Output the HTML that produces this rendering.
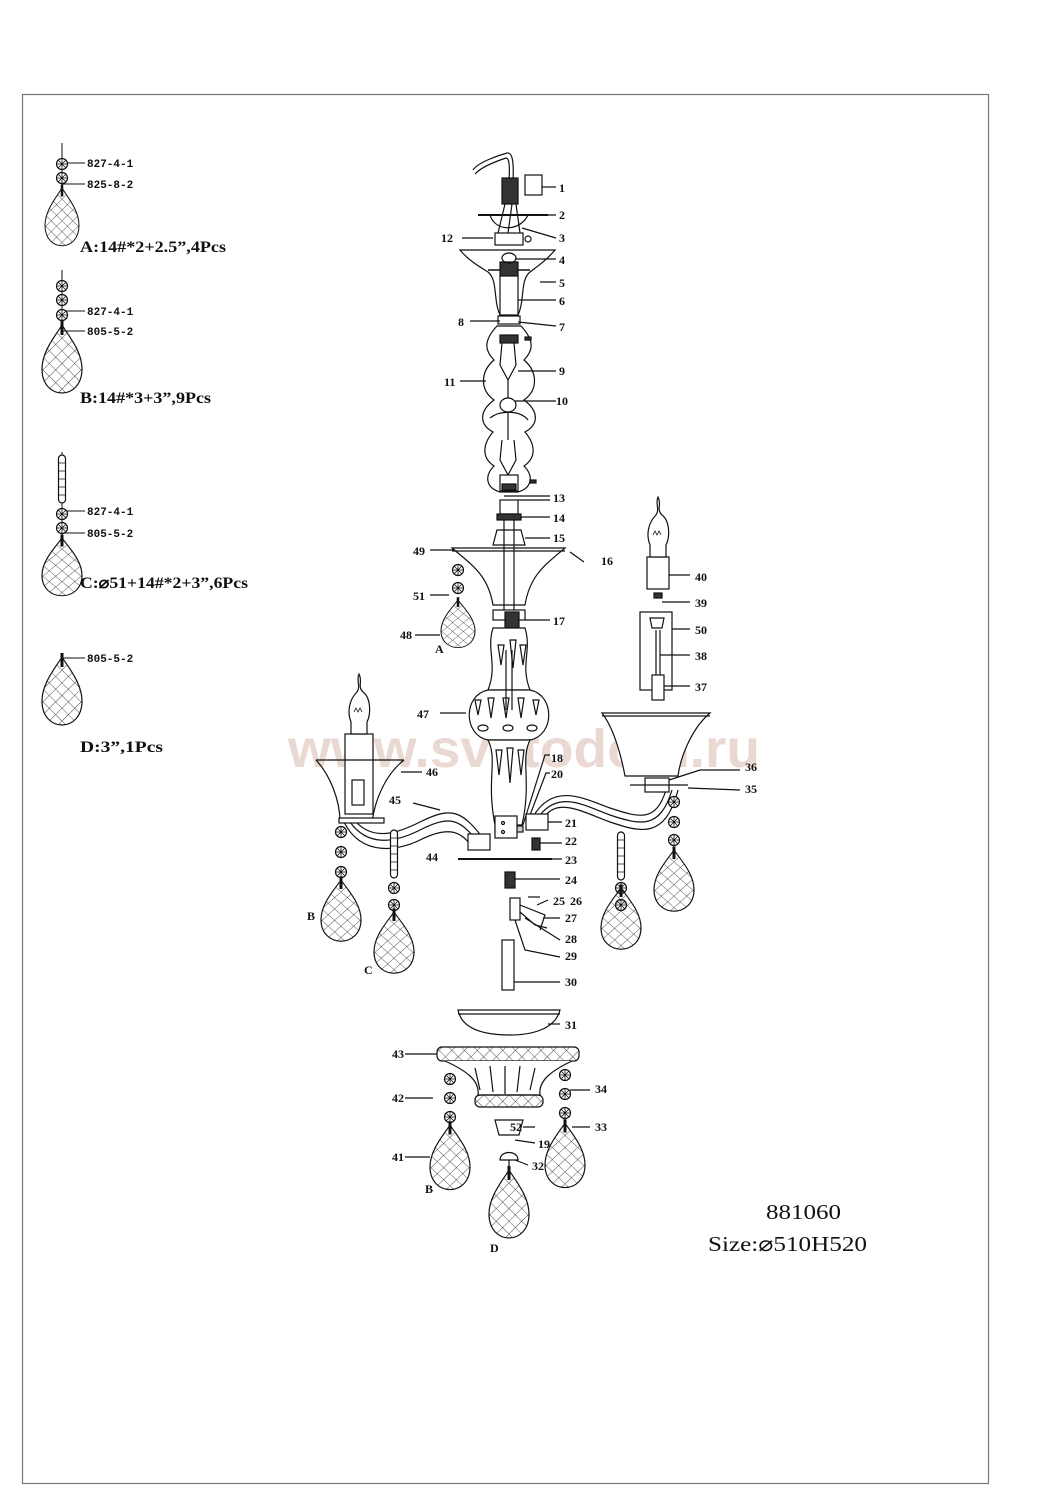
<!DOCTYPE html>
<html><head><meta charset="utf-8"><style>
html,body{margin:0;padding:0;background:#fff;}
svg{display:block}
text{font-family:"Liberation Serif",serif;font-weight:bold;fill:#111;}
.l{font-size:12px}
.s{font-size:11px;font-family:"Liberation Mono",monospace}
</style></head><body>
<svg width="1059" height="1500" viewBox="0 0 1059 1500" xmlns="http://www.w3.org/2000/svg">
<defs>
<pattern id="hatch" width="9" height="9" patternUnits="userSpaceOnUse" patternTransform="rotate(45)">
<path d="M0,0 V9 M0,0 H9" stroke="#222" stroke-width="0.8" fill="none"/>
</pattern>
<g id="drop">
<path d="M0,0 C-6,10 -20,26 -20,44 C-20,60 -10,68 0,68 C10,68 20,60 20,44 C20,26 6,10 0,0Z" fill="url(#hatch)" stroke="#111" stroke-width="1.2"/>
<line x1="0" y1="-4" x2="0" y2="10" stroke="#111" stroke-width="3"/>
</g>
<g id="bead">
<circle r="5.5" fill="#fff" stroke="#111" stroke-width="1.2"/>
<path d="M-5,0H5M0,-5V5M-3.5,-3.5L3.5,3.5M-3.5,3.5L3.5,-3.5" stroke="#111" stroke-width="0.8"/>
</g>
<g id="lbead">
<rect x="-3.5" y="0" width="7" height="48" rx="3.5" fill="#fff" stroke="#111" stroke-width="1.2"/>
<path d="M-3,8H3M-3,16H3M-3,24H3M-3,32H3M-3,40H3" stroke="#111" stroke-width="0.8"/>
</g>
<g id="candle">
<path d="M0,-60 C4,-52 -2,-48 4,-42 C12,-36 12,-20 8,-12 L8,0 L-8,0 L-8,-12 C-12,-22 -10,-34 -2,-42 C2,-48 -3,-54 0,-60Z" fill="#fff" stroke="#111" stroke-width="1.2"/>
<path d="M-5,-22 l2,-4 l2,4 l2,-4 l2,4" fill="none" stroke="#111" stroke-width="0.8"/>
</g>
</defs>
<rect x="22.5" y="94.5" width="966" height="1389" fill="none" stroke="#777" stroke-width="1.2"/>

<!-- watermark -->
<text x="288" y="767" textLength="472" lengthAdjust="spacingAndGlyphs" style="font-family:'Liberation Sans',sans-serif;font-size:54px;font-weight:bold;fill:#ead9d2">www.svetodom.ru</text>

<!-- LEGEND -->
<g stroke="#111" stroke-width="1">
<line x1="62" y1="143" x2="62" y2="185"/>
<line x1="62" y1="163" x2="85" y2="163"/><line x1="62" y1="184" x2="85" y2="184"/>
<line x1="62" y1="270" x2="62" y2="320"/>
<line x1="62" y1="311" x2="85" y2="311"/><line x1="62" y1="331" x2="85" y2="331"/>
<line x1="62" y1="452" x2="62" y2="540"/>
<line x1="62" y1="511" x2="85" y2="511"/><line x1="62" y1="533" x2="85" y2="533"/>
<line x1="62" y1="658" x2="85" y2="658"/>
</g>
<use href="#bead" x="62" y="164"/><use href="#bead" x="62" y="178"/><use href="#drop" transform="translate(62,188) scale(0.85)"/>
<text class="s" x="87" y="167">827-4-1</text><text class="s" x="87" y="188">825-8-2</text>
<text x="80" y="252" textLength="146" lengthAdjust="spacingAndGlyphs" style="font-size:16px">A:14#*2+2.5”,4Pcs</text>

<use href="#bead" x="62" y="286"/><use href="#bead" x="62" y="300"/><use href="#bead" x="62" y="315"/>
<use href="#drop" transform="translate(62,325) scale(1.0)"/>
<text class="s" x="87" y="315">827-4-1</text><text class="s" x="87" y="335">805-5-2</text>
<text x="80" y="403" textLength="131" lengthAdjust="spacingAndGlyphs" style="font-size:16px">B:14#*3+3”,9Pcs</text>

<use href="#lbead" x="62" y="455"/><use href="#bead" x="62" y="514"/><use href="#bead" x="62" y="528"/>
<use href="#drop" transform="translate(62,538) scale(1.0,0.85)"/>
<text class="s" x="87" y="515">827-4-1</text><text class="s" x="87" y="537">805-5-2</text>
<text x="80" y="588" textLength="168" lengthAdjust="spacingAndGlyphs" style="font-size:16px">C:⌀51+14#*2+3”,6Pcs</text>

<use href="#drop" transform="translate(62,657) scale(1.0)"/>
<text class="s" x="87" y="662">805-5-2</text>
<text x="80" y="752" textLength="83" lengthAdjust="spacingAndGlyphs" style="font-size:16px">D:3”,1Pcs</text>

<!-- CENTER DRAWING -->
<g fill="none" stroke="#111" stroke-width="1.2">
<path d="M473,170 C478,162 500,155 507,153 C512,152 514,160 513,180"/>
<path d="M475,174 C482,166 500,160 506,158 C509,158 510,165 509,180"/>
<rect x="502" y="178" width="16" height="26" fill="#333"/>
<rect x="525" y="175" width="17" height="20" fill="#fff"/>
<line x1="542" y1="187" x2="556" y2="187"/>
<line x1="478" y1="215" x2="548" y2="215" stroke-width="2"/>
<path d="M490,215 C495,232 520,232 528,215"/>
<path d="M505,204 L498,233 M512,204 L508,233 M516,204 L520,233"/>
<rect x="495" y="233" width="28" height="12" fill="#fff"/><circle cx="528" cy="239" r="3"/>
<line x1="462" y1="238" x2="493" y2="238"/>
<path d="M460,250 L555,250 C545,262 535,268 530,272 C520,280 525,300 518,315 L500,315 C493,300 498,280 488,272 C482,268 470,262 460,250Z" fill="#fff"/>
<line x1="488" y1="270" x2="530" y2="270" stroke-width="1.5"/>
<rect x="500" y="262" width="18" height="14" fill="#333"/>
<line x1="500" y1="276" x2="500" y2="318"/><line x1="518" y1="276" x2="518" y2="318"/>
<ellipse cx="509" cy="258" rx="7" ry="5"/>
<rect x="498" y="316" width="22" height="8" fill="#fff"/>
<path d="M497,326 C484,340 484,350 494,360 C480,372 480,390 494,400 C478,412 480,425 493,432 C482,445 482,458 494,466 C484,476 486,488 500,492 L518,492 C532,488 534,476 524,466 C536,458 536,445 525,432 C538,425 540,412 524,400 C538,390 538,372 524,360 C534,350 534,340 521,326Z" fill="#fff"/>
<rect x="500" y="335" width="18" height="8" fill="#333"/>
<path d="M502,343 L500,365 L508,380 L516,365 L514,343"/>
<line x1="508" y1="380" x2="508" y2="398"/>
<ellipse cx="508" cy="405" rx="8" ry="7"/>
<path d="M490,418 C500,410 520,410 528,420"/>
<line x1="508" y1="412" x2="508" y2="440"/>
<path d="M502,440 L500,460 L508,475 L516,460 L514,440"/>
<rect x="500" y="475" width="18" height="16" fill="#fff"/><rect x="502" y="484" width="14" height="6" fill="#333"/>
<rect x="525" y="337" width="6" height="3" fill="#333"/><rect x="530" y="480" width="6" height="3" fill="#333"/>
<path d="M548,215 L556,215 M522,228 L556,238 M515,259 L556,259 M540,282 L556,282 M518,300 L556,300 M518,322 L556,326 M470,321 L500,321 M518,371 L556,371 M515,401 L556,401 M460,381 L486,381"/>
<line x1="504" y1="496" x2="550" y2="496"/>
<rect x="500" y="500" width="18" height="14" fill="#fff"/>
<rect x="497" y="514" width="24" height="6" fill="#333"/>
<path d="M497,530 L521,530 L525,545 L493,545Z" fill="#fff"/>
<path d="M518,500 L550,500 M521,517 L550,517 M525,538 L550,538"/>
<path d="M570,552 L584,562"/>
<path d="M452,548 L565,548 C545,565 530,575 525,605 L493,605 C488,575 472,565 452,548Z" fill="#fff"/>
<line x1="452" y1="551" x2="565" y2="551"/>
<line x1="504" y1="520" x2="504" y2="610"/><line x1="514" y1="520" x2="514" y2="610"/>
<line x1="455" y1="550" x2="430" y2="550"/>
<rect x="493" y="610" width="32" height="10" fill="#fff"/>
<rect x="505" y="612" width="14" height="16" fill="#333"/>
<line x1="525" y1="620" x2="550" y2="620"/>
<path d="M493,628 L525,628 C532,650 520,665 530,690 L488,690 C498,665 486,650 493,628Z" fill="#fff"/>
<path d="M498,645 l3,20 l3,-20z M510,640 l3,28 l3,-28z M520,645 l3,20 l3,-20z"/>
<path d="M488,690 L530,690 C555,695 555,735 530,740 L488,740 C463,735 463,695 488,690Z" fill="#fff"/>
<path d="M475,700 l3,15 l3,-15z M488,698 l3,20 l3,-20z M503,698 l3,20 l3,-20z M518,698 l3,20 l3,-20z M533,700 l3,15 l3,-15z"/>
<ellipse cx="483" cy="728" rx="5" ry="3"/><ellipse cx="508" cy="728" rx="5" ry="3"/><ellipse cx="532" cy="728" rx="5" ry="3"/>
<path d="M488,740 L530,740 C520,760 532,780 522,825 L495,825 C486,780 498,760 488,740Z" fill="#fff"/>
<path d="M496,750 l3,25 l3,-25z M507,748 l3,35 l3,-35z M518,750 l3,25 l3,-25z"/>
<rect x="495" y="826" width="28" height="6" fill="#ccc"/>
<line x1="506" y1="650" x2="506" y2="710"/><line x1="512" y1="650" x2="512" y2="710"/>
<line x1="440" y1="713" x2="466" y2="713"/>
<path d="M523,825 L545,755 L550,755 M530,815 L546,773 L550,773"/>
<path d="M350,822 C370,850 400,840 420,830 C450,815 460,818 480,845"/>
<path d="M344,822 C362,858 400,850 420,840 C448,826 462,830 474,850"/>
<path d="M356,822 C375,842 400,832 420,822 C452,806 462,810 486,842"/>
<path d="M672,790 C660,830 640,825 610,815 C585,806 560,790 540,815"/>
<path d="M678,790 C665,840 640,832 610,822 C585,813 560,798 546,815"/>
<path d="M666,790 C656,822 640,818 610,808 C585,799 555,782 534,815"/>
<rect x="468" y="834" width="22" height="16" fill="#fff"/>
<rect x="495" y="816" width="22" height="22" fill="#fff"/><circle cx="503" cy="823" r="1.5"/><circle cx="503" cy="832" r="1.5"/>
<rect x="526" y="814" width="22" height="16" fill="#fff"/>
<rect x="532" y="838" width="8" height="12" fill="#333"/>
<line x1="458" y1="859" x2="552" y2="859" stroke-width="2"/>
<path d="M548,822 L562,822 M540,843 L562,843 M552,859 L562,859"/>
<line x1="413" y1="803" x2="440" y2="810"/>
<path d="M316,760 L404,760" />
<path d="M316,760 C330,775 340,800 340,822 M404,760 C385,775 375,800 372,822" />
<rect x="345" y="734" width="28" height="80" fill="#fff"/>
<line x1="345" y1="760" x2="373" y2="760"/>
<rect x="352" y="780" width="12" height="25" fill="#fff"/>
<rect x="339" y="818" width="45" height="5" fill="#fff"/>
<line x1="401" y1="772" x2="422" y2="772"/>
<path d="M602,713 L710,713 C690,730 680,760 678,776 L625,776 C622,760 615,730 602,713Z" fill="#fff"/>
<line x1="602" y1="716" x2="710" y2="716"/>
<rect x="645" y="778" width="24" height="14" fill="#fff"/>
<line x1="630" y1="785" x2="688" y2="785"/>
<path d="M669,780 L700,770 L740,770 M688,788 L740,790"/>
<rect x="647" y="557" width="22" height="32" fill="#fff"/>
<line x1="669" y1="575" x2="690" y2="575"/>
<rect x="654" y="593" width="8" height="5" fill="#333"/>
<line x1="662" y1="602" x2="690" y2="602"/>
<rect x="640" y="612" width="32" height="78" fill="#fff"/>
<path d="M650,618 L664,618 L662,628 L652,628Z"/>
<line x1="656" y1="630" x2="656" y2="675"/><line x1="660" y1="630" x2="660" y2="675"/>
<rect x="652" y="675" width="12" height="25" fill="#fff"/>
<path d="M672,629 L690,629 M660,655 L690,655 M664,686 L690,686"/>
<rect x="505" y="872" width="10" height="16" fill="#333"/>
<line x1="515" y1="879" x2="560" y2="879"/>
<rect x="510" y="898" width="10" height="22" fill="#fff"/>
<path d="M520,905 L545,915 L540,930 M520,912 L535,925 L547,928"/>
<line x1="528" y1="897" x2="540" y2="897"/>
<path d="M537,905 L548,900 M543,918 L560,918 M525,918 L560,940 M515,920 L525,950 L560,957"/>
<rect x="502" y="940" width="12" height="50" fill="#fff"/>
<line x1="514" y1="982" x2="560" y2="982"/>
<path d="M458,1010 L560,1010 C555,1030 530,1035 510,1035 C485,1035 462,1030 458,1010Z" fill="#fff"/>
<line x1="458" y1="1014" x2="560" y2="1014"/>
<line x1="548" y1="1024" x2="560" y2="1024"/>
<rect x="437" y="1047" width="142" height="14" rx="5" fill="url(#hatch)"/>
<path d="M445,1061 C465,1070 480,1080 478,1095 L540,1095 C538,1080 553,1070 572,1061" fill="#fff"/>
<path d="M475,1068 l5,22 M490,1066 l3,26 M505,1066 l0,28 M520,1066 l-3,26 M535,1068 l-5,22"/>
<rect x="475" y="1095" width="68" height="12" rx="5" fill="url(#hatch)"/>
<line x1="405" y1="1054" x2="437" y2="1054"/>
<path d="M495,1120 L523,1120 L519,1135 L499,1135Z" fill="#fff"/>
<path d="M523,1127 L535,1127 M515,1140 L535,1143 M515,1160 L528,1165"/>
<path d="M500,1160 C500,1150 518,1150 518,1160Z" fill="#fff"/>
<line x1="509" y1="1160" x2="509" y2="1172"/>
<path d="M405,1098 L433,1098 M405,1157 L430,1157 M570,1090 L590,1090 M572,1127 L590,1127"/>
<line x1="440" y1="635" x2="415" y2="635"/>
<line x1="449" y1="595" x2="430" y2="595"/>
</g>
<use href="#bead" x="458" y="570"/><use href="#bead" x="458" y="588"/><use href="#drop" transform="translate(458,600) scale(0.85,0.7)"/>
<use href="#bead" x="341" y="832"/><use href="#bead" x="341" y="852"/><use href="#bead" x="341" y="872"/><use href="#drop" transform="translate(341,880) scale(1.0,0.9)"/>
<use href="#lbead" x="394" y="830"/><use href="#bead" x="394" y="888"/><use href="#bead" x="394" y="905"/><use href="#drop" transform="translate(394,912) scale(1.0,0.9)"/>
<use href="#lbead" x="621" y="832"/><use href="#bead" x="621" y="888"/><use href="#bead" x="621" y="905"/><use href="#drop" transform="translate(621,888) scale(1.0,0.9)"/>
<use href="#bead" x="674" y="802"/><use href="#bead" x="674" y="822"/><use href="#bead" x="674" y="840"/><use href="#drop" transform="translate(674,850) scale(1.0,0.9)"/>
<use href="#bead" x="450" y="1079"/><use href="#bead" x="450" y="1098"/><use href="#bead" x="450" y="1117"/><use href="#drop" transform="translate(450,1125) scale(1.0,0.95)"/>
<use href="#bead" x="565" y="1075"/><use href="#bead" x="565" y="1094"/><use href="#bead" x="565" y="1113"/><use href="#drop" transform="translate(565,1123) scale(1.0,0.95)"/>
<use href="#drop" transform="translate(509,1170) scale(1.0,1.0)"/>
<use href="#candle" x="359" y="734"/>
<use href="#candle" x="658" y="557"/>

<g class="l">
<text class="l" x="559" y="192">1</text><text class="l" x="559" y="219">2</text><text class="l" x="559" y="242">3</text>
<text class="l" x="441" y="242">12</text><text class="l" x="559" y="264">4</text><text class="l" x="559" y="287">5</text>
<text class="l" x="559" y="305">6</text><text class="l" x="559" y="331">7</text><text class="l" x="458" y="326">8</text>
<text class="l" x="559" y="375">9</text><text class="l" x="556" y="405">10</text><text class="l" x="444" y="386">11</text>
<text class="l" x="553" y="502">13</text><text class="l" x="553" y="522">14</text><text class="l" x="553" y="542">15</text>
<text class="l" x="601" y="565">16</text><text class="l" x="553" y="625">17</text>
<text class="l" x="413" y="555">49</text><text class="l" x="413" y="600">51</text><text class="l" x="400" y="639">48</text>
<text class="l" x="435" y="653">A</text><text class="l" x="417" y="718">47</text>
<text class="l" x="551" y="762">18</text><text class="l" x="551" y="778">20</text>
<text class="l" x="426" y="776">46</text><text class="l" x="389" y="804">45</text><text class="l" x="426" y="861">44</text>
<text class="l" x="307" y="920">B</text><text class="l" x="364" y="974">C</text>
<text class="l" x="565" y="827">21</text><text class="l" x="565" y="845">22</text><text class="l" x="565" y="864">23</text>
<text class="l" x="565" y="884">24</text><text class="l" x="553" y="905">25</text><text class="l" x="570" y="905">26</text>
<text class="l" x="565" y="922">27</text><text class="l" x="565" y="943">28</text><text class="l" x="565" y="960">29</text>
<text class="l" x="565" y="986">30</text><text class="l" x="565" y="1029">31</text>
<text class="l" x="392" y="1058">43</text><text class="l" x="392" y="1102">42</text><text class="l" x="392" y="1161">41</text>
<text class="l" x="425" y="1193">B</text><text class="l" x="595" y="1093">34</text><text class="l" x="595" y="1131">33</text>
<text class="l" x="510" y="1131">52</text><text class="l" x="538" y="1148">19</text><text class="l" x="532" y="1170">32</text>
<text class="l" x="490" y="1252">D</text>
<text class="l" x="695" y="581">40</text><text class="l" x="695" y="607">39</text><text class="l" x="695" y="634">50</text>
<text class="l" x="695" y="660">38</text><text class="l" x="695" y="691">37</text>
<text class="l" x="745" y="771">36</text><text class="l" x="745" y="793">35</text>
</g>
<text x="766" y="1219" textLength="75" lengthAdjust="spacingAndGlyphs" style="font-size:21px;font-weight:normal">881060</text>
<text x="708" y="1251" textLength="159" lengthAdjust="spacingAndGlyphs" style="font-size:21px;font-weight:normal">Size:⌀510H520</text>
</svg>
</body></html>
